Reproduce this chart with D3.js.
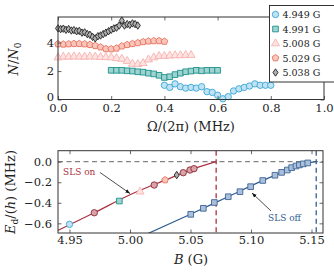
<!DOCTYPE html>
<html>
<head>
<style>
body{ margin:0; background:#fff; }
svg text{ font-family: "DejaVu Serif", serif; }
</style>
</head>
<body>
<svg id="chart" width="334" height="273"></svg>
<script src="https://cdn.jsdelivr.net/npm/d3@7"></script>
<script>
// ---- top panel data: N/N0 vs Omega/(2pi) (MHz) ----
var fields = ['4.949 G', '4.991 G', '5.008 G', '5.029 G', '5.038 G'];

var x4949 = [0.40,0.42,0.44,0.46,0.48,0.50,0.52,0.54,0.56,0.58,0.60,0.62,0.64,0.66,0.68,0.70,0.72,0.74,0.76,0.78,0.80];
var y4949 = [1.00,0.85,1.10,0.90,0.80,0.85,0.80,0.90,0.55,0.50,0.30,0.05,0.20,0.60,0.75,0.85,0.95,1.10,1.00,1.00,1.00];

var x4991 = [0.20,0.22,0.24,0.26,0.28,0.30,0.32,0.34,0.36,0.38,0.40,0.42,0.44,0.46,0.48,0.50,0.52,0.54,0.56,0.58,0.60];
var y4991 = [2.05,2.05,2.05,2.02,2.00,1.95,1.92,1.85,1.80,1.70,1.55,1.60,1.75,1.85,1.95,2.00,2.05,2.02,2.05,2.05,2.05];

var x5008 = [0.00,0.02,0.04,0.06,0.08,0.10,0.12,0.14,0.16,0.18,0.20,0.22,0.24,0.26,0.28,0.30,0.32,0.34,0.36,0.38,0.40,0.42,0.44,0.46,0.48,0.50];
var y5008 = [2.95,3.00,3.00,3.02,3.00,3.00,3.02,3.00,2.98,2.97,2.95,2.90,2.85,2.70,2.50,2.48,2.55,2.80,2.95,3.05,3.05,3.08,3.10,3.10,3.12,3.12];

var x5029 = [0.00,0.02,0.04,0.06,0.08,0.10,0.12,0.14,0.16,0.18,0.20,0.22,0.24,0.26,0.28,0.30,0.32,0.34,0.36,0.38,0.40];
var y5029 = [3.90,3.88,3.90,3.92,3.92,3.90,3.85,3.78,3.68,3.56,3.55,3.60,3.75,3.85,3.92,3.98,4.05,4.10,4.12,4.12,4.08];

var x5038 = [0.00,0.01,0.02,0.03,0.04,0.05,0.06,0.07,0.08,0.09,0.10,0.11,0.12,0.13,0.14,0.15,0.16,0.17,0.18,0.19,0.20,0.21,0.22,0.23,0.24,0.25,0.26,0.27,0.28,0.29,0.30];
var y5038 = [5.00,4.95,4.98,4.90,4.95,4.85,4.88,4.80,4.82,4.70,4.72,4.60,4.55,4.40,4.30,4.45,4.50,4.60,4.70,4.80,4.90,5.00,5.05,5.20,5.55,5.20,5.30,5.25,5.35,5.30,5.20];

// ---- bottom panel data: E_d/(h) vs B (G) ----
var onFitB = [4.935, 4.97, 5.00, 5.03, 5.05, 5.0712];
var onFitE = [-0.70, -0.50, -0.322, -0.175, -0.08, 0.0];
var onPtB = [4.9705, 5.020, 5.044, 5.0496, 5.0529];
var onPtE = [-0.497, -0.227, -0.107, -0.081, -0.068];
// points coming from the top-panel datasets
var onSetB = [4.950, 4.9912, 5.0083, 5.029, 5.0386];
var onSetE = [-0.61, -0.383, -0.292, -0.178, -0.130];

var offFitB = [5.010, 5.05, 5.081, 5.11, 5.13, 5.14, 5.1539];
var offFitE = [-0.725, -0.512, -0.341, -0.182, -0.083, -0.032, 0.0];
var offPtB = [5.0502, 5.0606, 5.0697, 5.0812, 5.0909, 5.0997, 5.1097, 5.1198, 5.1253, 5.1300, 5.1336, 5.1372, 5.1400, 5.1432, 5.1469];
var offPtE = [-0.512, -0.454, -0.397, -0.341, -0.292, -0.243, -0.183, -0.132, -0.104, -0.081, -0.058, -0.042, -0.031, -0.021, -0.012];

var thrOn = 5.0712, thrOff = 5.1539;

var svg = d3.select('#chart');
var serif = 'DejaVu Serif';

var styles = [
    {stroke: '#3ba6d6', fill: '#bfe3f3', shape: 'circle'},
    {stroke: '#1e918c', fill: '#9ed3cf', shape: 'square'},
    {stroke: '#f6b2b0', fill: '#fde3e2', shape: 'triangle'},
    {stroke: '#e8715d', fill: '#f9c6bc', shape: 'pentagon'},
    {stroke: '#222222', fill: '#b0b0b0', shape: 'diamond'}
];

function pentagon(r) {
    var pts = d3.range(5).map(function (i) {
        var a = -Math.PI / 2 + i * 2 * Math.PI / 5;
        return [r * Math.cos(a), r * Math.sin(a)];
    });
    return d3.line()(pts) + 'Z';
}
function markerPath(shape) {
    if (shape == 'circle') return d3.symbol(d3.symbolCircle, 32)();
    if (shape == 'square') return d3.symbol(d3.symbolSquare, 32)();
    if (shape == 'triangle') return d3.symbol(d3.symbolTriangle, 28)();
    if (shape == 'diamond') return 'M0,-3.7L2.5,0L0,3.7L-2.5,0Z';
    return pentagon(3.5);
}

function frameAxes(g, x, y, w, h, xt, yt, xfmt, yfmt, xpad, ypad) {
    g.append('g').attr('transform', 'translate(0,' + h + ')')
        .call(d3.axisBottom(x).tickValues(xt).tickFormat(xfmt).tickSizeInner(-3.5).tickSizeOuter(0).tickPadding(xpad));
    g.append('g')
        .call(d3.axisTop(x).tickValues(xt).tickFormat('').tickSizeInner(-3.5).tickSizeOuter(0));
    g.append('g').attr('class', 'yax')
        .call(d3.axisLeft(y).tickValues(yt).tickFormat(yfmt).tickSizeInner(-3.5).tickSizeOuter(0).tickPadding(ypad));
    g.append('g').attr('transform', 'translate(' + w + ',0)')
        .call(d3.axisRight(y).tickValues(yt).tickFormat('').tickSizeInner(-3.5).tickSizeOuter(0));
    g.selectAll('.domain').remove();
    g.selectAll('.tick line').attr('stroke', '#444').attr('stroke-width', 0.8);
    g.selectAll('.tick text').attr('font-family', serif).attr('font-size', 11.5).attr('fill', '#222');
    g.append('rect').attr('width', w).attr('height', h)
        .attr('fill', 'none').attr('stroke', '#333').attr('stroke-width', 1);
}

// ---------- top panel ----------
var tL = 58, tT = 17, tW = 266, tH = 82.5;
var xT = d3.scaleLinear().domain([0, 1]).range([0, tW]);
var yT = d3.scaleLinear().domain([0, 5.8]).range([tH, 0]);
var gTop = svg.append('g').attr('transform', 'translate(' + tL + ',' + tT + ')');

var topSets = [[x4949, y4949], [x4991, y4991], [x5008, y5008], [x5029, y5029], [x5038, y5038]];
var plotT = gTop.append('g');
topSets.forEach(function (s, i) {
    var pts = s[0].map(function (v, j) { return [v, s[1][j]]; });
    plotT.append('path').datum(pts)
        .attr('fill', 'none').attr('stroke', styles[i].stroke).attr('stroke-width', 1)
        .attr('d', d3.line().x(function (d) { return xT(d[0]); }).y(function (d) { return yT(d[1]); }));
    plotT.selectAll('.m' + i).data(pts).enter().append('path')
        .attr('transform', function (d) { return 'translate(' + xT(d[0]) + ',' + yT(d[1]) + ')'; })
        .attr('d', markerPath(styles[i].shape))
        .attr('fill', styles[i].fill).attr('stroke', styles[i].stroke).attr('stroke-width', 0.9);
});
frameAxes(gTop, xT, yT, tW, tH, [0, 0.2, 0.4, 0.6, 0.8, 1.0], [0, 2, 4],
    d3.format('.1f'), d3.format('d'), 4.5, 4);
// the "0" label sits just above the "0.0" label, as in the figure
gTop.selectAll('.yax .tick text').filter(function (d) { return d === 0; }).attr('dy', '0.1em');

svg.append('text').attr('x', 191).attr('y', 131).attr('text-anchor', 'middle')
    .attr('font-family', serif).attr('font-size', 13).attr('fill', '#222')
    .text('Ω/(2π) (MHz)');
var nl = svg.append('text').attr('transform', 'translate(18,59) rotate(-90)')
    .attr('text-anchor', 'middle').attr('font-family', serif).attr('font-size', 13).attr('fill', '#222');
nl.append('tspan').attr('font-style', 'italic').text('N');
nl.append('tspan').text('/');
nl.append('tspan').attr('font-style', 'italic').text('N');
nl.append('tspan').attr('font-size', 9).attr('dy', 3).text('0');

// legend
var leg = svg.append('g').attr('transform', 'translate(269.5,5.5)');
leg.append('rect').attr('width', 70).attr('height', 76.5)
    .attr('fill', '#fff').attr('stroke', '#333').attr('stroke-width', 1);
fields.forEach(function (f, i) {
    var row = leg.append('g').attr('transform', 'translate(0,' + (9 + i * 14.5) + ')');
    row.append('path').attr('transform', 'translate(6,0)')
        .attr('d', markerPath(styles[i].shape))
        .attr('fill', styles[i].fill).attr('stroke', styles[i].stroke).attr('stroke-width', 0.9);
    row.append('text').attr('x', 13).attr('y', 3.5).attr('font-family', serif)
        .attr('font-size', 9.5).attr('fill', '#222').text(f);
});

// ---------- bottom panel ----------
var bL = 58, bT = 150.7, bW = 265, bH = 82.3;
var xB = d3.scaleLinear().domain([4.9405, 5.1595]).range([0, bW]);
var yB = d3.scaleLinear().domain([-0.694, 0.107]).range([bH, 0]);
var bot = svg.append('g').attr('transform', 'translate(' + bL + ',' + bT + ')');
bot.append('clipPath').attr('id', 'clipB').append('rect').attr('width', bW).attr('height', bH);
var plotB = bot.append('g').attr('clip-path', 'url(#clipB)');

var onRed = '#a8323e', offBlue = '#2f5d93';

plotB.append('line').attr('x1', 0).attr('x2', bW).attr('y1', yB(0)).attr('y2', yB(0))
    .attr('stroke', '#666').attr('stroke-width', 1).attr('stroke-dasharray', '5,3.5');
plotB.append('line').attr('x1', xB(thrOn)).attr('x2', xB(thrOn)).attr('y1', 0).attr('y2', bH)
    .attr('stroke', onRed).attr('stroke-width', 1.3).attr('stroke-dasharray', '5,3.5');
plotB.append('line').attr('x1', xB(thrOff)).attr('x2', xB(thrOff)).attr('y1', 0).attr('y2', bH)
    .attr('stroke', offBlue).attr('stroke-width', 1.3).attr('stroke-dasharray', '5,3.5');

var lineB = d3.line().curve(d3.curveMonotoneX)
    .x(function (d) { return xB(d[0]); }).y(function (d) { return yB(d[1]); });
plotB.append('path').datum(onFitB.map(function (v, j) { return [v, onFitE[j]]; }))
    .attr('fill', 'none').attr('stroke', onRed).attr('stroke-width', 1.2).attr('d', lineB);
plotB.append('path').datum(offFitB.map(function (v, j) { return [v, offFitE[j]]; }))
    .attr('fill', 'none').attr('stroke', offBlue).attr('stroke-width', 1.2).attr('d', lineB);

plotB.selectAll('.on').data(onPtB).enter().append('path')
    .attr('transform', function (d, j) { return 'translate(' + xB(d) + ',' + yB(onPtE[j]) + ')'; })
    .attr('d', markerPath('circle'))
    .attr('fill', '#d9a3a8').attr('stroke', '#8a2b38').attr('stroke-width', 0.9);
onSetB.forEach(function (b, i) {
    plotB.append('path')
        .attr('transform', 'translate(' + xB(b) + ',' + yB(onSetE[i]) + ')')
        .attr('d', markerPath(styles[i].shape))
        .attr('fill', styles[i].fill).attr('stroke', styles[i].stroke).attr('stroke-width', 0.9);
});
plotB.selectAll('.off').data(offPtB).enter().append('path')
    .attr('transform', function (d, j) { return 'translate(' + xB(d) + ',' + yB(offPtE[j]) + ')'; })
    .attr('d', markerPath('square'))
    .attr('fill', '#a9bfdb').attr('stroke', '#3f6596').attr('stroke-width', 0.9);

frameAxes(bot, xB, yB, bW, bH, [4.95, 5.00, 5.05, 5.10, 5.15], [0, -0.2, -0.4, -0.6],
    d3.format('.2f'), function (d) { return d3.format('.1f')(d).replace('-', '−'); }, 3, 6);

// annotations
svg.append('defs').append('marker').attr('id', 'ah').attr('viewBox', '0 0 10 10')
    .attr('refX', 10).attr('refY', 5).attr('markerWidth', 6).attr('markerHeight', 6)
    .attr('orient', 'auto').append('path').attr('d', 'M0,1L10,5L0,9Z').attr('fill', '#111');
svg.append('text').attr('x', 63).attr('y', 174.5).attr('font-family', serif)
    .attr('font-size', 9).attr('fill', onRed).text('SLS on');
svg.append('line').attr('x1', 100).attr('y1', 172.5).attr('x2', 130).attr('y2', 193.5)
    .attr('stroke', '#222').attr('stroke-width', 0.8).attr('marker-end', 'url(#ah)');
svg.append('text').attr('x', 268).attr('y', 221).attr('font-family', serif)
    .attr('font-size', 9).attr('fill', offBlue).text('SLS off');
svg.append('line').attr('x1', 271).attr('y1', 211).attr('x2', 252).attr('y2', 193)
    .attr('stroke', '#222').attr('stroke-width', 0.8).attr('marker-end', 'url(#ah)');

svg.append('text').attr('x', 191).attr('y', 264).attr('text-anchor', 'middle')
    .attr('font-family', serif).attr('font-size', 13).attr('fill', '#222')
    .call(function (t) {
        t.append('tspan').attr('font-style', 'italic').text('B');
        t.append('tspan').text(' (G)');
    });
var el = svg.append('text').attr('transform', 'translate(15,192) rotate(-90)')
    .attr('text-anchor', 'middle').attr('font-family', serif).attr('font-size', 13).attr('fill', '#222');
el.append('tspan').attr('font-style', 'italic').text('E');
el.append('tspan').attr('font-size', 9).attr('dy', 3).text('d');
el.append('tspan').attr('dy', -3).text('/(');
el.append('tspan').attr('font-style', 'italic').text('h');
el.append('tspan').text(') (MHz)');
</script>
</body>
</html>
